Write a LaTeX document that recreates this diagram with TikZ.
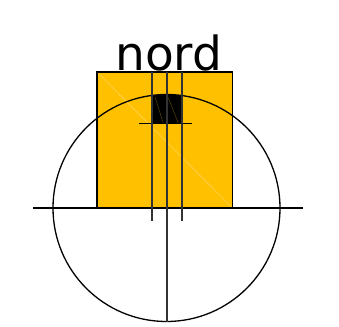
\documentclass[tikz,border=0pt]{standalone}
\usepackage{fontspec}
\newfontfamily\labelfont{DejaVu Sans}
\definecolor{gold}{HTML}{FFC000}
\definecolor{goldlight}{HTML}{FFD45A}
\definecolor{darkline}{HTML}{333333}
\definecolor{brownline}{HTML}{4A3A00}
\begin{document}
\begin{tikzpicture}[x=1pt,y=-1pt,
  thinblack/.style={draw=black,line width=1.3pt},
  vline/.style={draw=darkline,line width=1.8pt},
  labelstyle/.style={font=\labelfont\fontsize{47}{50}\selectfont,inner sep=0pt,anchor=base}]
\useasboundingbox (0,0) rectangle (339,326);
% orange rectangle
\coordinate (rtl) at (97,72);
\coordinate (rbr) at (232.5,208);
\fill[gold] (rtl) rectangle (rbr);
\draw[goldlight,line width=0.6pt] (rtl) -- (rbr);
\draw[black,line width=1.1pt] (rtl) rectangle (rbr);
% black square clipped by circle
\begin{scope}
\clip (166.5,208) circle (113.5);
\fill[black] (151.7,90) rectangle (182.3,123.3);
\end{scope}
\draw[brownline,line width=0.6pt] (155,96.7) -- (163.3,123.3);
\draw[brownline,line width=0.6pt] (168.3,97.7) -- (178.3,123.3);
% circle
\node[circle,draw=black,line width=1.3pt,minimum size=227pt,inner sep=0pt] (circ) at (166.5,208) {};
% horizontal axis
\coordinate (hl) at (33,208);
\coordinate (hr) at (303,208);
\draw[thinblack] (hl) -- (hr);
% short horizontal
\coordinate (sl) at (139,123.3);
\coordinate (sr) at (191.7,123.3);
\draw[thinblack] (sl) -- (sr);
% vertical lines
\coordinate (v1t) at (151.7,72);
\coordinate (v1b) at (151.7,221);
\coordinate (v2t) at (166.8,72);
\coordinate (v2b) at (166.8,321.5);
\coordinate (v3t) at (181.9,72);
\coordinate (v3b) at (181.9,221);
\draw[vline] (v1t) -- (v1b);
\draw[vline] (v2t) -- (v2b);
\draw[vline] (v3t) -- (v3b);
% label
\node[labelstyle] (nord) at (168.8,71) {nord};
\end{tikzpicture}
\end{document}
